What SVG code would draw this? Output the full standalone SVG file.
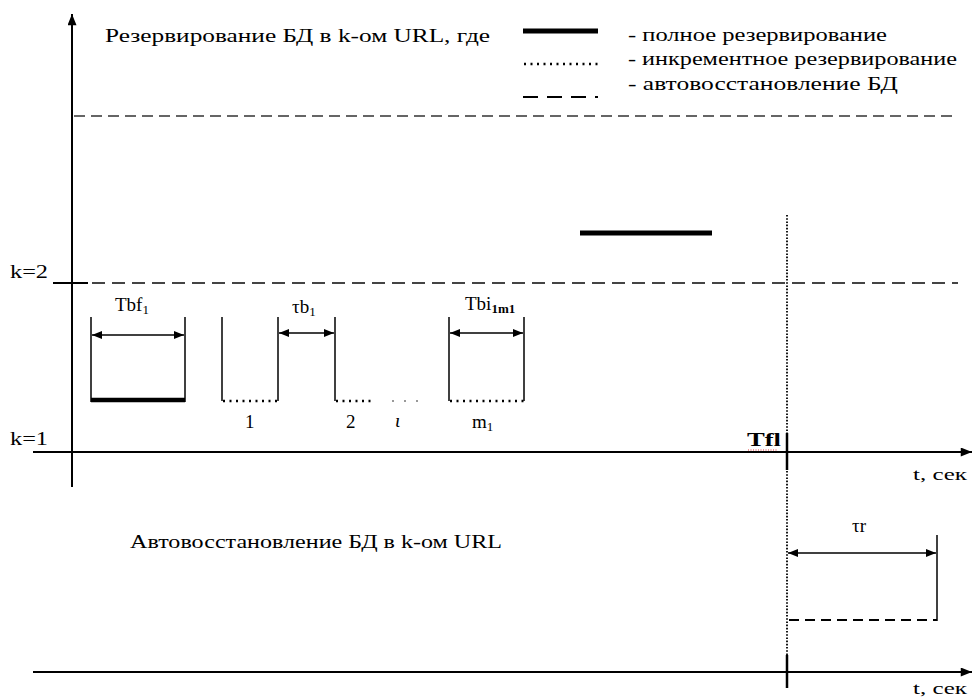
<svg xmlns="http://www.w3.org/2000/svg" width="974" height="698" viewBox="0 0 974 698">
<style>
text{font-family:"Liberation Serif","DejaVu Serif",serif;fill:#000}
.t{font-size:19px}
.s{font-size:16px}
.sub{font-size:13px}
.ax{stroke:#000;stroke-width:2;fill:none}
.thin{stroke:#000;stroke-width:1.5;fill:none}
.dash{stroke:#333;stroke-width:1.6;stroke-dasharray:11 6;fill:none}
.dash2{stroke:#444;stroke-width:2;stroke-dasharray:13 7;fill:none}
.dot{stroke:#000;stroke-width:2.5;stroke-dasharray:2 4.5;fill:none}
.vdot{stroke:#000;stroke-width:1.8;stroke-dasharray:1.6 1.6;fill:none}
.thick{stroke:#000;stroke-width:5;fill:none}
</style>
<defs>
<marker id="ah" viewBox="0 0 10 8" refX="10" refY="4" markerWidth="10" markerHeight="8" markerUnits="userSpaceOnUse" orient="auto-start-reverse"><path d="M0,0L10,4L0,8z" fill="#000"/></marker>
<marker id="ahs" viewBox="0 0 10 8" refX="10" refY="4" markerWidth="12" markerHeight="9" markerUnits="userSpaceOnUse" orient="auto-start-reverse"><path d="M0,0L10,4L0,8z" fill="#000"/></marker>
</defs>
<rect width="974" height="698" fill="#fff"/>

<g id="axes">
<line class="ax" x1="72" y1="487" x2="72" y2="14" marker-end="url(#ahs)"/>
<line class="ax" x1="33" y1="452" x2="972" y2="452" marker-end="url(#ahs)"/>
<line class="ax" x1="33" y1="672" x2="972" y2="672" marker-end="url(#ahs)"/>
<line x1="787" y1="433" x2="787" y2="470" stroke="#000" stroke-width="2.5"/>
<line x1="787" y1="655" x2="787" y2="688" stroke="#000" stroke-width="2.5"/>
<line class="ax" x1="53" y1="283" x2="88" y2="283"/>
</g>

<g id="levels">
<line class="dash" x1="74" y1="116" x2="956" y2="116"/>
<line class="dash2" x1="92" y1="283" x2="958" y2="283"/>
<line class="vdot" x1="787" y1="215" x2="787" y2="655"/>
</g>

<g id="title">
<text class="t" x="105" y="42" textLength="385" lengthAdjust="spacingAndGlyphs">Резервирование БД в k-ом  URL, где</text>
</g>

<g id="legend">
<line class="thick" x1="523" y1="31" x2="598" y2="31"/>
<line class="dot" x1="524" y1="64" x2="598" y2="64"/>
<line x1="523" y1="97" x2="598" y2="97" stroke="#000" stroke-width="2" stroke-dasharray="15 9"/>
<text class="t" x="628" y="41" textLength="259" lengthAdjust="spacingAndGlyphs">- полное резервирование</text>
<text class="t" x="628" y="65" textLength="329" lengthAdjust="spacingAndGlyphs">- инкрементное резервирование</text>
<text class="t" x="628" y="90" textLength="270" lengthAdjust="spacingAndGlyphs">- автовосстановление БД</text>
</g>

<g id="k-labels">
<text class="t" x="10" y="278" textLength="38" lengthAdjust="spacingAndGlyphs">k=2</text>
<text class="t" x="10" y="445" textLength="38" lengthAdjust="spacingAndGlyphs">k=1</text>
</g>

<g id="full-backup-1">
<line class="thin" x1="91" y1="317" x2="91" y2="402"/>
<line class="thin" x1="185" y1="317" x2="185" y2="402"/>
<line x1="91" y1="400" x2="185" y2="400" stroke="#000" stroke-width="4.5"/>
<line class="thin" x1="92" y1="335" x2="184" y2="335" marker-start="url(#ah)" marker-end="url(#ah)"/>
<text class="t" x="115" y="311">Tbf<tspan class="sub" dy="3">1</tspan></text>
</g>

<g id="inc-backup-1">
<line class="thin" x1="222" y1="317" x2="222" y2="401"/>
<line class="thin" x1="278" y1="317" x2="278" y2="401"/>
<line class="dot" x1="223" y1="401" x2="278" y2="401"/>
<text class="t" x="245" y="428">1</text>
</g>

<g id="gap-1">
<line class="thin" x1="279" y1="333" x2="334" y2="333" marker-start="url(#ah)" marker-end="url(#ah)"/>
<text class="t" x="292" y="313">τb<tspan class="sub" dy="3">1</tspan></text>
</g>

<g id="inc-backup-2">
<line class="thin" x1="335" y1="317" x2="335" y2="401"/>
<line class="dot" x1="336" y1="401" x2="372" y2="401"/>
<text class="t" x="346" y="428">2</text>
</g>

<g id="inc-backup-i">
<line x1="392" y1="401" x2="422" y2="401" stroke="#999" stroke-width="2" stroke-dasharray="2 10"/>
<text class="t" x="395" y="427" font-style="italic">ι</text>
</g>

<g id="inc-backup-m">
<line class="thin" x1="449" y1="317" x2="449" y2="401"/>
<line class="thin" x1="524" y1="317" x2="524" y2="401"/>
<line class="dot" x1="450" y1="401" x2="524" y2="401"/>
<line class="thin" x1="450" y1="333" x2="523" y2="333" marker-start="url(#ah)" marker-end="url(#ah)"/>
<text class="t" x="465" y="310">Tbi<tspan class="sub" dy="3" font-weight="bold">1m1</tspan></text>
<text class="t" x="472" y="428">m<tspan class="sub" dy="3">1</tspan></text>
</g>

<g id="full-backup-2">
<line class="thick" x1="580" y1="233" x2="712" y2="233"/>
</g>

<g id="failure">
<text class="t" x="747" y="446" font-weight="bold" textLength="34" lengthAdjust="spacingAndGlyphs">Tfl</text>
<line x1="748" y1="450" x2="778" y2="450" stroke="#e03030" stroke-width="1" stroke-dasharray="1 1.5"/>
<text class="s" x="913" y="480" textLength="54" lengthAdjust="spacingAndGlyphs">t, сек</text>
</g>

<g id="recovery-title">
<text class="t" x="130" y="548" textLength="372" lengthAdjust="spacingAndGlyphs">Автовосстановление БД в k-ом  URL</text>
</g>

<g id="recovery">
<line class="thin" x1="937" y1="535" x2="937" y2="621"/>
<line x1="789" y1="620" x2="937" y2="620" stroke="#000" stroke-width="2" stroke-dasharray="10 6"/>
<line class="thin" x1="788" y1="553" x2="936" y2="553" marker-start="url(#ah)" marker-end="url(#ah)"/>
<text class="t" x="852" y="532">τr</text>
<text class="s" x="913" y="694" textLength="54" lengthAdjust="spacingAndGlyphs">t, сек</text>
</g>
</svg>
